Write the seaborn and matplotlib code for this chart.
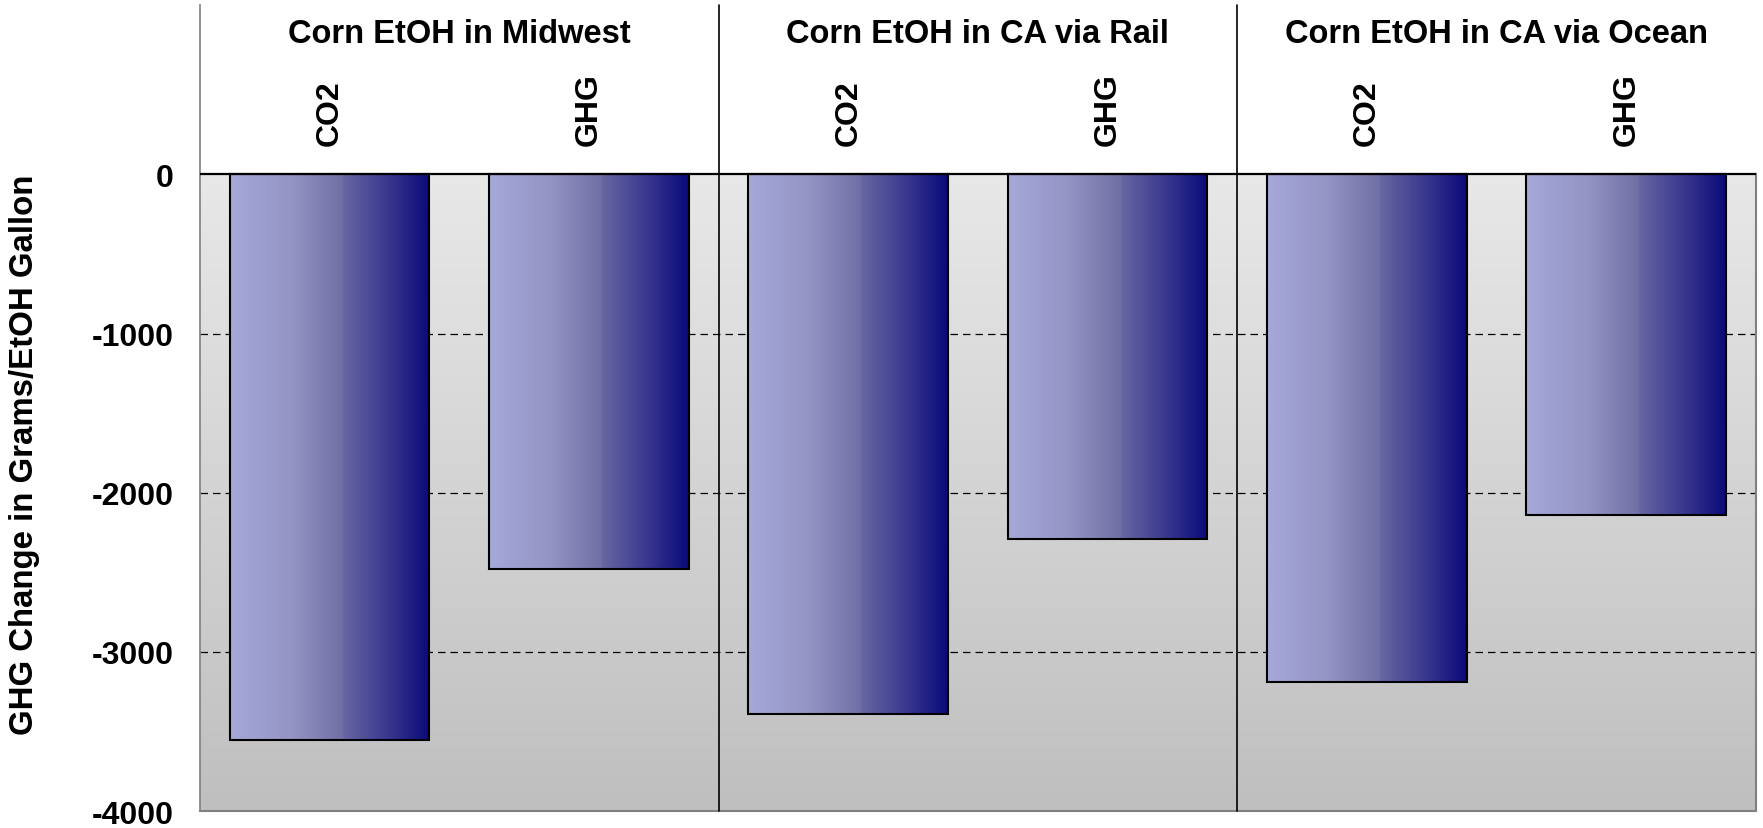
import numpy as np
import pandas as pd
import matplotlib
matplotlib.use("Agg")
import matplotlib.pyplot as plt
import matplotlib.transforms as mtransforms
from matplotlib.colors import LinearSegmentedColormap
import seaborn as sns

# ---- data ----
groups = ["Corn EtOH in Midwest", "Corn EtOH in CA via Rail", "Corn EtOH in CA via Ocean"]
gases = ["CO2", "GHG"]
co2_change = [-3555, -3392, -3187]
ghg_change = [-2481, -2290, -2141]
y_ticks = [0, -1000, -2000, -3000, -4000]
y_label = "GHG Change in Grams/EtOH Gallon"

rows = []
for g, c, h in zip(groups, co2_change, ghg_change):
    rows.append({"slot": f"{g}|CO2", "group": g, "gas": "CO2", "value": c})
    rows.append({"slot": f"{g}|GHG", "group": g, "gas": "GHG", "value": h})
df = pd.DataFrame(rows)
order = list(df["slot"])

sns.set_theme(style="white")
plt.rcParams["font.family"] = ["Liberation Sans", "DejaVu Sans"]
plt.rcParams["text.color"] = "black"
plt.rcParams["ytick.color"] = "black"
plt.rcParams["ytick.labelcolor"] = "black"

fig = plt.figure(figsize=(17.63, 8.29), dpi=100)
ax = fig.add_axes([0.1134, 0.0205, 0.996 - 0.1134, 0.9932 - 0.0205])

sns.barplot(data=df, x="slot", y="value", order=order, width=0.77,
            color="#7070a8", edgecolor="black", linewidth=1.5, ax=ax, zorder=3)

xmin, xmax = -0.5, len(order) - 0.5
ymin, ymax = -4000, 1067

# plot-area background: vertical grey gradient below zero
bg_cmap = LinearSegmentedColormap.from_list("bg", ["#e8e8e8", "#bfbfbf"])
grad_v = np.linspace(0, 1, 256).reshape(-1, 1)
ax.imshow(grad_v, cmap=bg_cmap, aspect="auto", extent=(xmin, xmax, ymin, 0),
          origin="upper", zorder=0, interpolation="bilinear")

# bar fill: horizontal lavender-to-navy gradient clipped to each bar
bar_cmap = LinearSegmentedColormap.from_list(
    "bar", [(0.0, "#a6a8d9"), (0.3, "#9495c5"), (0.56, "#7170a6"),
            (0.57, "#6766a2"), (0.8, "#37368e"), (1.0, "#0a0a7a")])
grad_h = np.linspace(0, 1, 256).reshape(1, -1)
for patch in list(ax.patches):
    x0, y0 = patch.get_x(), patch.get_y()
    w, h = patch.get_width(), patch.get_height()
    im = ax.imshow(grad_h, cmap=bar_cmap, aspect="auto",
                   extent=(x0, x0 + w, min(y0, y0 + h), max(y0, y0 + h)),
                   zorder=2.5, interpolation="bilinear")
    im.set_clip_path(patch)
    patch.set_facecolor("none")
ax.set_xlim(xmin, xmax)
ax.set_ylim(ymin, ymax)

# dashed gridlines and zero line
for yv in y_ticks[1:-1]:
    ax.axhline(yv, color="black", lw=0.9, ls=(0, (6, 4)), zorder=1)
ax.axhline(0, color="black", lw=1.6, zorder=4)

# spines
ax.spines["top"].set_visible(False)
ax.spines["left"].set_color("#808080")
ax.spines["left"].set_linewidth(1.2)
ax.spines["bottom"].set_color("#808080")
ax.spines["bottom"].set_linewidth(1.5)
ax.spines["right"].set_color("#808080")
ax.spines["right"].set_linewidth(1.5)
ax.spines["right"].set_bounds(ymin, 0)

# group separators
trans = mtransforms.blended_transform_factory(ax.transData, ax.transAxes)
for xs in [1.5, 3.5]:
    ax.plot([xs, xs], [0, 1], transform=trans, color="black", lw=1.2,
            zorder=5, clip_on=False)

# ticks
ax.set_yticks(y_ticks)
ax.set_yticklabels([str(t) for t in y_ticks], fontsize=23, fontweight="bold",
                   color="black")
ax.tick_params(axis="y", length=0, pad=19)
ax.set_xticks([])
ax.set_xlabel("")
ax.set_ylabel("")

# labels above the bars
for i, g in enumerate(groups):
    ax.text(2 * i + 0.5, 0.9536, g, transform=trans, ha="center", va="baseline",
            fontsize=23.5, fontweight="bold", color="black")
for i, slot in enumerate(order):
    gas = slot.split("|")[1]
    ax.text(i, 0.826, gas, transform=trans, ha="center", va="bottom",
            rotation=90, fontsize=23, fontweight="bold", color="black")

fig.text(25 / 1763, 1 - 455 / 829, y_label, rotation=90, ha="center", va="center",
         fontsize=23.8, fontweight="bold", color="black")

fig.savefig("out.png", dpi=100)
